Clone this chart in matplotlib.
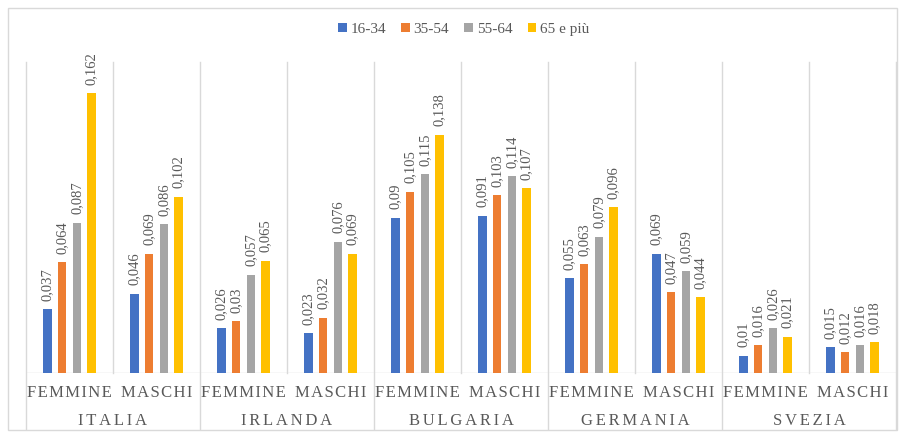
import matplotlib.pyplot as plt
from matplotlib.patches import Rectangle
import numpy as np

plt.rcParams['font.family'] = ['Liberation Serif', 'DejaVu Serif']

paesi = ["ITALIA", "IRLANDA", "BULGARIA", "GERMANIA", "SVEZIA"]
sessi = ["FEMMINE", "MASCHI"]
eta = ["16-34", "35-54", "55-64", "65 e più"]
colori = ["#4472C4", "#ED7D31", "#A5A5A5", "#FFC000"]

# valori per categoria (paese x sesso), una lista per fascia d'eta
v_16_34 = [0.037, 0.046, 0.026, 0.023, 0.090, 0.091, 0.055, 0.069, 0.010, 0.015]
v_35_54 = [0.064, 0.069, 0.030, 0.032, 0.105, 0.103, 0.063, 0.047, 0.016, 0.012]
v_55_64 = [0.087, 0.086, 0.057, 0.076, 0.115, 0.114, 0.079, 0.059, 0.026, 0.016]
v_65 = [0.162, 0.102, 0.065, 0.069, 0.138, 0.107, 0.096, 0.044, 0.021, 0.018]
serie = [v_16_34, v_35_54, v_55_64, v_65]

grigio = "#D9D9D9"
testo = "#595959"


def spaziato(s, n):
    return ("\u200a" * n).join(s)


fig = plt.figure(figsize=(9.01, 4.33), dpi=100)
ax = fig.add_axes([26/901, 60/433, 870/901, 311/433])

n = len(paesi) * len(sessi)
x = np.arange(n)
passo = 0.169
for i, vals in enumerate(serie):
    pos = x + (i - 1.5) * passo
    ax.bar(pos, vals, width=0.10, color=colori[i], label=eta[i], zorder=3)
    for p, v in zip(pos, vals):
        etichetta = ("%g" % v).replace(".", ",")
        ax.text(p, v + 0.0048, etichetta, rotation=90, ha="center", va="bottom",
                fontsize=10.5, color=testo)

ax.set_xlim(-0.5, n - 0.5)
ax.set_ylim(0, 0.18)
for s in ax.spines.values():
    s.set_visible(False)
ax.set_xticks([])
ax.set_yticks([])

# linee verticali e asse
trans = ax.get_xaxis_transform()
for k in range(n + 1):
    b = k - 0.5
    if k % 2 == 0:
        ax.plot([b, b], [-0.18, 1], transform=trans, color=grigio, lw=1, clip_on=False, zorder=1)
    else:
        ax.plot([b, b], [0, 1], transform=trans, color=grigio, lw=1, clip_on=False, zorder=1)
ax.axhline(0, color=grigio, lw=1, zorder=2)

for k in range(n):
    ax.text(k, -0.065, spaziato(sessi[k % 2], 1), transform=trans, ha="center", va="center",
            fontsize=12, color=testo)
for j, p in enumerate(paesi):
    ax.text(2 * j + 0.5, -0.155, spaziato(p, 2), transform=trans,
            ha="center", va="center", fontsize=12, color=testo)

ax.legend(loc="upper center", bbox_to_anchor=(0.503, 1.17), ncol=4, frameon=False,
          fontsize=11, handlelength=0.55, handleheight=0.55, handletextpad=0.25,
          columnspacing=1.0, labelcolor=testo)

fig.patches.append(Rectangle((8/901, 3/433), 889/901, 422/433, transform=fig.transFigure,
                             fill=False, edgecolor=grigio, lw=1))

fig.savefig("out.png", dpi=100)
